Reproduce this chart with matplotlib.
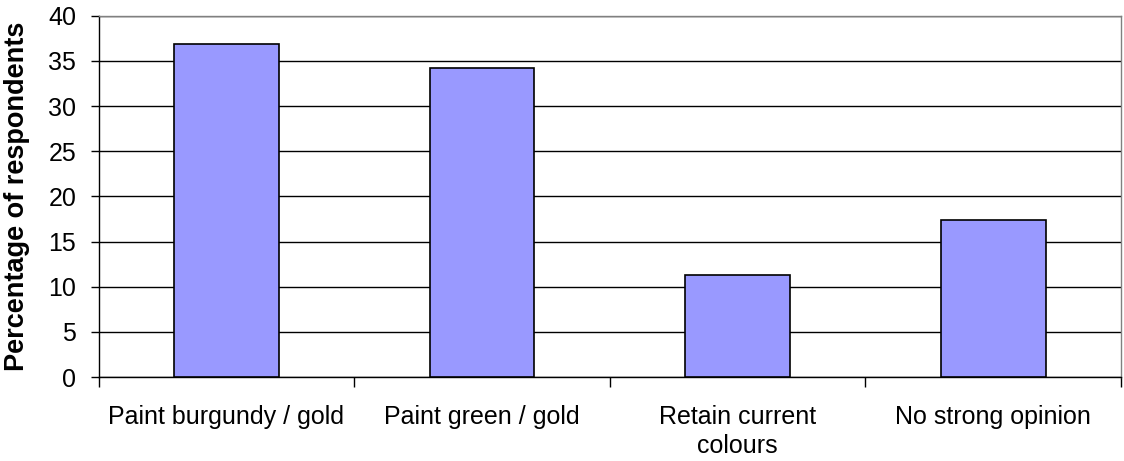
import matplotlib
matplotlib.use("Agg")
import matplotlib.pyplot as plt
import numpy as np

categories = ["Paint burgundy / gold", "Paint green / gold", "Retain current\ncolours", "No strong opinion"]
values = [36.9, 34.25, 11.25, 17.4]
yticks = [0, 5, 10, 15, 20, 25, 30, 35, 40]

plt.rcParams['font.family'] = ['Liberation Sans', 'DejaVu Sans']

fig = plt.figure(figsize=(11.24, 4.61), dpi=100)
ax = fig.add_axes([98.5/1124, 1 - 377/461, (1121 - 98.5)/1124, (377 - 15.7)/461])

x = np.arange(len(categories))
ax.bar(x, values, width=0.41, color='#9999ff', edgecolor='black', linewidth=1.2, zorder=3)

ax.set_xlim(-0.5, len(categories) - 0.5)
ax.set_ylim(0, 40)
ax.set_yticks(yticks)
ax.yaxis.grid(True, color='black', linewidth=1.0, zorder=0)
ax.set_axisbelow(True)

ax.set_xticks(np.arange(-0.5, len(categories), 1.0))
ax.set_xticklabels([])
ax.set_xticks(x, minor=True)
ax.set_xticklabels(categories, minor=True, fontsize=18, linespacing=1.25)
ax.tick_params(axis='x', which='minor', length=0, pad=20)
ax.tick_params(axis='x', which='major', length=7, direction='out', width=1, color='black')
ax.tick_params(axis='y', length=6, direction='out', width=1, labelsize=18, pad=10)

for s in ['top', 'right']:
    ax.spines[s].set_color('#808080')
    ax.spines[s].set_linewidth(1.0)
for s in ['left', 'bottom']:
    ax.spines[s].set_color('black')
    ax.spines[s].set_linewidth(1.0)

fig.text(17/1124, 1 - 196.5/461, 'Percentage of respondents', fontsize=19.5, fontweight='bold',
         rotation=90, ha='center', va='center')

fig.savefig('out.png', dpi=100)
